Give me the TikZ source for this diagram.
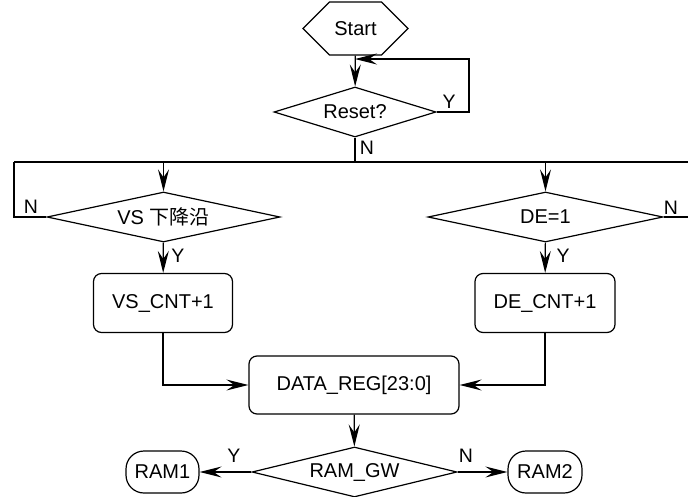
\documentclass[tikz,border=0pt]{standalone}
\usepackage{fontspec}
\setmainfont{Liberation Sans}
\newfontfamily\cjk{Noto Sans CJK SC}
\usetikzlibrary{arrows.meta,shapes.geometric,shapes.misc}
\begin{document}
\begin{tikzpicture}[x=1pt,y=-1pt,
  line width=1.2pt,
  every node/.style={font=\fontsize{20}{24}\selectfont, inner sep=0pt},
  flow/.style={-{Stealth[length=22pt,width=11pt,inset=8pt]}},
  procbox/.style={draw, rounded corners=8pt, minimum width=#1, minimum height=59pt},
  termbox/.style={draw, rounded corners=18pt, minimum width=73pt, minimum height=42pt},
  decision/.style={draw, diamond, aspect=4, minimum width=#1, minimum height=50pt},
  hexbox/.style={draw, chamfered rectangle, chamfered rectangle xsep=20pt,
    chamfered rectangle ysep=19.5pt, minimum width=105pt, minimum height=39pt},
  lbl/.style={font=\fontsize{19.5}{23}\selectfont}]
\useasboundingbox (0,0) rectangle (688,496);

% nodes
\node[hexbox] (start) at (355.5,28.5) {Start};
\node[decision=162pt] (reset) at (355,112) {Reset?};
\node[decision=233pt] (vs) at (163.5,217) {VS {\cjk 下降沿}};
\node[decision=235pt] (de) at (545.5,217) {DE=1};
\node[procbox=139pt] (vscnt) at (163,303) {VS\_CNT+1};
\node[procbox=140pt] (decnt) at (545,303) {DE\_CNT+1};
\node[procbox=210pt, minimum height=58pt] (data) at (354,385) {DATA\_REG[23:0]};
\node[decision=205pt] (gw) at (354.5,472) {RAM\_GW};
\node[termbox] (ram1) at (162.5,472) {RAM1};
\node[termbox, minimum width=74pt] (ram2) at (545,472) {RAM2};

% junction points
\coordinate (loopin) at (355,59);
\coordinate (loopc) at (469,59);
\coordinate (bus) at (355,162);
\coordinate (busl) at (14,162);
\coordinate (busr) at (690,162);
\coordinate (vsin) at (163.5,162);
\coordinate (dein) at (545.5,162);
\coordinate (vsn) at (14,217);
\coordinate (den) at (690,217);

% connectors
\draw[flow] (start) -- (reset);
\draw[flow] (reset.east) -| (loopc) -- (loopin);
\draw (reset.south) -- (bus);
\draw (busl) -- (busr);
\draw[flow] (vsin) -- (vs.north);
\draw[flow] (dein) -- (de.north);
\draw (vs.west) -- (vsn) -- (busl);
\draw (de.east) -- (den) -- (busr);
\draw[flow] (vs) -- (vscnt);
\draw[flow] (de) -- (decnt);
\draw[flow] (vscnt.south) |- (data.west);
\draw[flow] (decnt.south) |- (data.east);
\draw[flow] (data) -- (gw);
\draw[flow] (gw.west) -- (ram1.east);
\draw[flow] (gw.east) -- (ram2.west);

% branch labels
\node[lbl] at (449,102) {Y};
\node[lbl] at (367,148) {N};
\node[lbl] at (31,207) {N};
\node[lbl] at (671,208) {N};
\node[lbl] at (178,256) {Y};
\node[lbl] at (563,256) {Y};
\node[lbl] at (234,456) {Y};
\node[lbl] at (466,456) {N};
\end{tikzpicture}
\end{document}
